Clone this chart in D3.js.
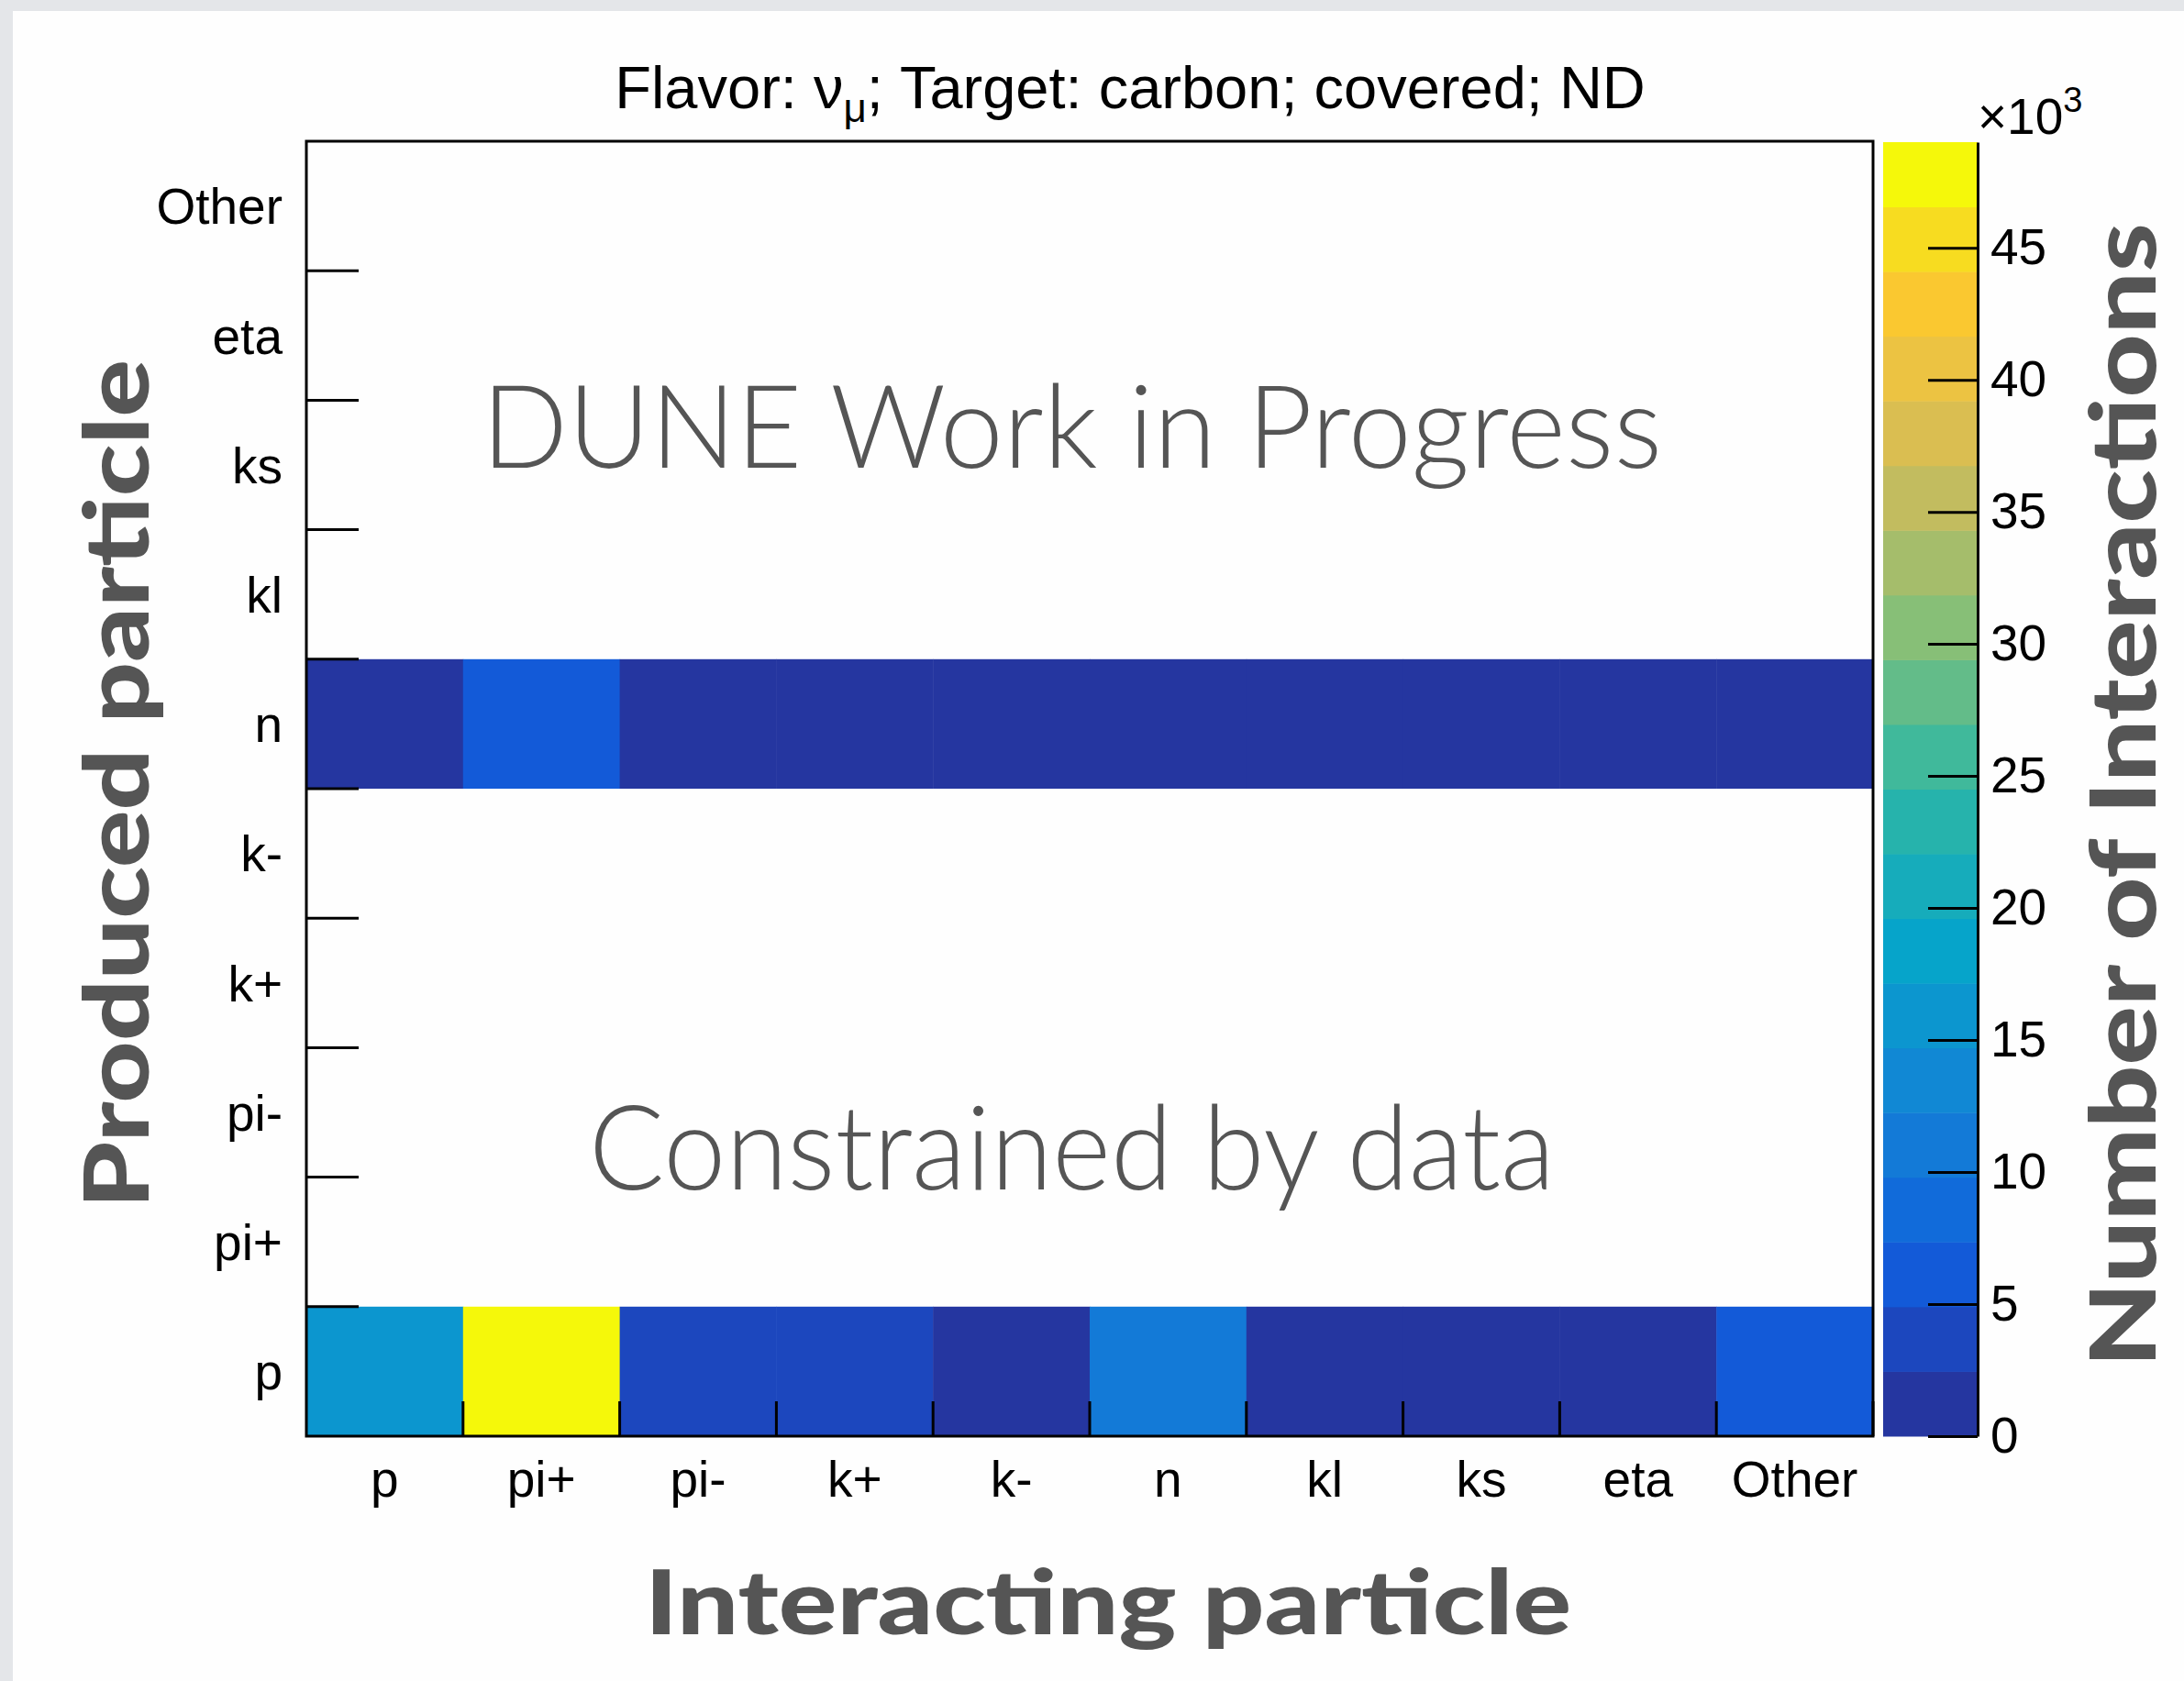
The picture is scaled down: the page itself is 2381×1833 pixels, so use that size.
<!DOCTYPE html>
<html>
<head>
<meta charset="utf-8">
<script src="https://cdn.jsdelivr.net/npm/d3@7"></script>
<style>
  body { margin: 0; background: #e4e6e9; }
  svg { display: block; }
</style>
</head>
<body>
<div id="chart-area"></div>
<script>
// particles on both axes (bottom to top for the y axis)
var interacting = ["p", "pi+", "pi-", "k+", "k-", "n", "kl", "ks", "eta", "Other"];
var produced = ["p", "pi+", "pi-", "k+", "k-", "n", "kl", "ks", "eta", "Other"];

// interactions per interacting particle, one array per produced particle row
var rowP = [16000, 49000, 4500, 4500, 1800, 10000, 1200, 900, 400, 6500];
var rowN = [2000, 6200, 600, 300, 200, 800, 100, 80, 50, 900];

var zMax = 49000;
var zTicks = [0, 5000, 10000, 15000, 20000, 25000, 30000, 35000, 40000, 45000];

// 20 contour colours (bird palette), low to high
var palette = ["#2536a0", "#1c47be", "#135ad8", "#116bda", "#137ad7", "#1188d4", "#0c96cf",
  "#06a4ca", "#16acbb", "#26b3ac", "#40b99b", "#63bc89", "#87bf77", "#a5bd6b",
  "#c2bc5f", "#dabe51", "#ecc342", "#fac830", "#f7dc20", "#f5f80a"];

var cells = [];
interacting.forEach(function(c, i) {
    cells.push({x: c, y: "p", v: rowP[i]});
    cells.push({x: c, y: "n", v: rowN[i]});
});

var W = 2381, H = 1833;
var svg = d3.select("#chart-area").append("svg")
    .attr("width", W)
    .attr("height", H);

// slide background
svg.append("rect").attr("x", 14).attr("y", 12).attr("width", W - 14).attr("height", H - 12)
    .attr("fill", "#fefefe");

var x0 = 334, x1 = 2042, y0 = 154, y1 = 1566;

var x = d3.scaleBand().domain(interacting).range([x0, x1]);
var y = d3.scaleBand().domain(produced).range([y1, y0]);

var colour = d3.scaleQuantize().domain([0, zMax]).range(palette);

svg.selectAll("rect.cell")
    .data(cells.filter(function(d) { return d.v > 0; }))
    .enter()
    .append("rect")
        .attr("class", "cell")
        .attr("x", function(d) { return x(d.x); })
        .attr("y", function(d) { return y(d.y); })
        .attr("width", x.bandwidth() + 0.5)
        .attr("height", y.bandwidth())
        .attr("fill", function(d) { return colour(d.v); });

// tick marks at bin edges
var ink = "#000";
svg.selectAll("line.xt")
    .data(interacting.slice(1).map(function(c) { return x(c); }).concat([x1]))
    .enter().append("line")
        .attr("x1", function(d) { return d; }).attr("x2", function(d) { return d; })
        .attr("y1", y1).attr("y2", y1 - 38)
        .attr("stroke", ink).attr("stroke-width", 3);

svg.selectAll("line.yt")
    .data(produced.slice(0, -1).map(function(c) { return y(c); }))
    .enter().append("line")
        .attr("x1", x0).attr("x2", x0 + 57)
        .attr("y1", function(d) { return d; }).attr("y2", function(d) { return d; })
        .attr("stroke", ink).attr("stroke-width", 3);

// frame
svg.append("rect")
    .attr("x", x0).attr("y", y0).attr("width", x1 - x0).attr("height", y1 - y0)
    .attr("fill", "none").attr("stroke", ink).attr("stroke-width", 3);

var labelFont = "'Liberation Sans', Arial, sans-serif";

var xAxis = svg.append("g")
    .attr("transform", "translate(0," + y1 + ")")
    .call(d3.axisBottom(x).tickSize(0).tickPadding(27));
xAxis.select(".domain").remove();
xAxis.selectAll("text").attr("font-size", 55).attr("font-family", labelFont).attr("fill", "#000");

var yAxis = svg.append("g")
    .attr("transform", "translate(" + x0 + ",0)")
    .call(d3.axisLeft(y).tickSize(0).tickPadding(26));
yAxis.select(".domain").remove();
yAxis.selectAll("text").attr("font-size", 55).attr("font-family", labelFont).attr("fill", "#000")
    .attr("dy", "0.36em");

// colour bar
var cbX0 = 2053, cbX1 = 2156;
var z = d3.scaleLinear().domain([0, zMax]).range([y1, y0 + 1]);
var step = zMax / palette.length;
svg.selectAll("rect.band")
    .data(palette)
    .enter().append("rect")
        .attr("x", cbX0)
        .attr("y", function(d, i) { return z((i + 1) * step); })
        .attr("width", cbX1 - cbX0)
        .attr("height", function(d, i) { return z(i * step) - z((i + 1) * step) + 0.5; })
        .attr("fill", function(d) { return d; });

var zAxis = svg.append("g")
    .attr("transform", "translate(" + cbX1 + ",0)")
    .call(d3.axisRight(z).tickValues(zTicks).tickSizeInner(-54).tickSizeOuter(0).tickPadding(14)
        .tickFormat(function(d) { return d / 1000; }));
zAxis.select(".domain").attr("stroke-width", 3);
zAxis.selectAll("line").attr("stroke-width", 3);
zAxis.selectAll("text").attr("font-size", 55).attr("font-family", labelFont).attr("fill", "#000");

var mult = svg.append("text")
    .attr("x", 2156).attr("y", 146)
    .attr("font-family", labelFont).attr("font-size", 55).attr("fill", "#000");
mult.append("tspan").text("\u00d710");
mult.append("tspan").attr("font-size", 38).attr("dy", -24).text("3");

// title
var title = svg.append("text")
    .attr("x", 1232).attr("y", 118)
    .attr("text-anchor", "middle")
    .attr("font-family", labelFont).attr("font-size", 65).attr("fill", "#000");
title.append("tspan").text("Flavor: \u03bd");
title.append("tspan").attr("font-size", 44).attr("dy", 15).text("\u03bc");
title.append("tspan").attr("dy", -15).text("; Target: carbon; covered; ND");

// axis titles
var titleFont = "Lato, 'Open Sans', sans-serif";
svg.append("text")
    .attr("x", 1208).attr("y", 1782)
    .attr("text-anchor", "middle")
    .attr("font-family", titleFont).attr("font-weight", 900).attr("font-size", 97)
    .attr("fill", "#555555")
    .attr("textLength", 1010).attr("lengthAdjust", "spacingAndGlyphs")
    .text("Interacting particle");

svg.append("text")
    .attr("transform", "translate(162,855) rotate(-90)")
    .attr("text-anchor", "middle")
    .attr("font-family", titleFont).attr("font-weight", 900).attr("font-size", 97)
    .attr("fill", "#555555")
    .attr("textLength", 926).attr("lengthAdjust", "spacingAndGlyphs")
    .text("Produced particle");

svg.append("text")
    .attr("transform", "translate(2350,867) rotate(-90)")
    .attr("text-anchor", "middle")
    .attr("font-family", titleFont).attr("font-weight", 900).attr("font-size", 100)
    .attr("fill", "#555555")
    .attr("textLength", 1248).attr("lengthAdjust", "spacingAndGlyphs")
    .text("Number of Interactions");

// watermarks
svg.append("text")
    .attr("x", 525).attr("y", 510)
    .attr("font-family", titleFont).attr("font-weight", 300).attr("font-size", 127)
    .attr("fill", "#555555")
    .attr("textLength", 1287).attr("lengthAdjust", "spacingAndGlyphs")
    .text("DUNE Work in Progress");

svg.append("text")
    .attr("x", 642).attr("y", 1297)
    .attr("font-family", titleFont).attr("font-weight", 300).attr("font-size", 128)
    .attr("fill", "#555555")
    .attr("textLength", 1053).attr("lengthAdjust", "spacingAndGlyphs")
    .text("Constrained by data");
</script>
</body>
</html>
